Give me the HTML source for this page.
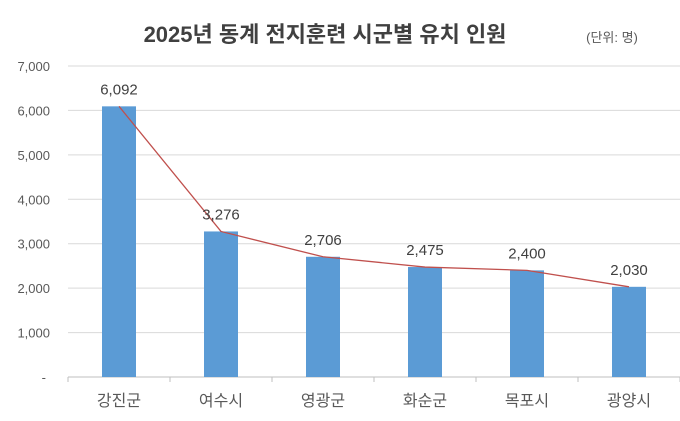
<!DOCTYPE html>
<html><head><meta charset="utf-8"><style>
body{margin:0;background:#fff;width:680px;height:416px;overflow:hidden}
svg text{font-family:"Liberation Sans","Noto Sans CJK KR",sans-serif}
</style></head><body>
<svg width="680" height="416">
<text x="325" y="42" text-anchor="middle" font-size="22" font-weight="bold" fill="#404040">2025년 동계 전지훈련 시군별 유치 인원</text>
<text x="612" y="42" text-anchor="middle" font-size="13" fill="#595959">(단위: 명)</text>
<g id="grid"></g><g id="bars"></g><g id="line"></g><g id="labels"></g>
</svg>
<script>
const categories=["강진군","여수시","영광군","화순군","목포시","광양시"];
const values=[6092,3276,2706,2475,2400,2030];
const valueLabels=["6,092","3,276","2,706","2,475","2,400","2,030"];
const ticks=[0,1000,2000,3000,4000,5000,6000,7000];
const tickLabels=["-","1,000","2,000","3,000","4,000","5,000","6,000","7,000"];
const NS="http://www.w3.org/2000/svg";
const x0=68,x1=680,y0=377,yTop=66,maxV=7000;
const band=(x1-x0)/categories.length;
const y=v=>y0-(v/maxV)*(y0-yTop);
const xc=i=>x0+band*(i+0.5);
function mk(t,a,p){const e=document.createElementNS(NS,t);for(const k in a)e.setAttribute(k,a[k]);p.appendChild(e);return e;}
const g=document.getElementById('grid');
ticks.forEach((t,i)=>{
 const l=mk('line',{x1:x0,x2:x1,y1:y(t),y2:y(t),stroke:t===0?'#bfbfbf':'#d9d9d9','stroke-width':1},g);
 
 
 const tx=mk('text',{x:t===0?46:50,y:y(t)+5,'text-anchor':'end','font-size':13,fill:'#595959'},g);
 tx.textContent=tickLabels[i];
 
 
});
for(let i=0;i<=categories.length;i++){
 const tk=mk('line',{x1:x0+band*i,x2:x0+band*i,y1:y0,y2:y0+5,stroke:'#bfbfbf'},g);
 
 
}
const b=document.getElementById('bars'),lb=document.getElementById('labels');
const bw=34;let pts=[];
categories.forEach((c,i)=>{
 const r=mk('rect',{x:xc(i)-bw/2,y:y(values[i]),width:bw,height:y0-y(values[i]),fill:'#5b9bd5'},b);
 
 
 pts.push(xc(i)+','+y(values[i]));
 const vl=mk('text',{x:xc(i),y:y(values[i])-12,'text-anchor':'middle','font-size':15,fill:'#404040'},lb);
 vl.textContent=valueLabels[i];
 
 
 const cl=mk('text',{x:xc(i),y:406,'text-anchor':'middle','font-size':16,fill:'#595959'},lb);
 cl.textContent=c;
 
 
});
const pl=mk('polyline',{points:pts.join(' '),fill:'none',stroke:'#c0504d','stroke-width':1.3},document.getElementById('line'));


</script>
</body></html>
